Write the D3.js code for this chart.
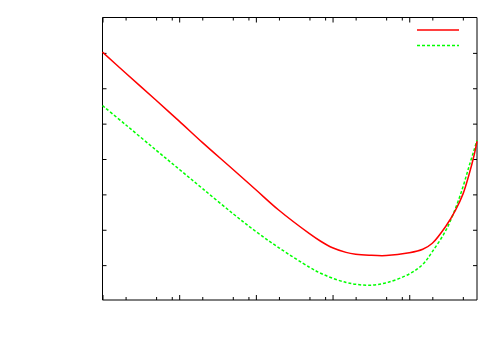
<!DOCTYPE html>
<html>
<head>
<meta charset="utf-8">
<script src="https://d3js.org/d3.v7.min.js"></script>
<style>
  body { margin: 0; background: #fff; }
  svg { display: block; }
</style>
</head>
<body>
<script>

  // x values (log scale)
  var xValues = [0.01, 0.02, 0.05, 0.1, 0.2, 0.5, 1, 2, 5, 7, 10, 15, 20, 30, 50, 100, 150, 200, 300, 400, 500, 600, 700, 765];
  var redValues = [7.02, 6.43, 5.66, 5.07, 4.47, 3.71, 3.13, 2.55, 1.89, 1.675, 1.49, 1.36, 1.31, 1.28, 1.27, 1.35, 1.45, 1.62, 2.10, 2.55, 3.00, 3.55, 4.10, 4.50];
  var greenValues = [5.51, 4.97, 4.25, 3.71, 3.17, 2.46, 1.95, 1.49, 0.94, 0.77, 0.63, 0.51, 0.46, 0.43, 0.50, 0.75, 1.02, 1.38, 1.98, 2.60, 3.20, 3.78, 4.25, 4.53];

  var xMajorTicks = [0.01, 0.1, 1, 10, 100];
  var xMinorTicks = [0.02, 0.05, 0.08, 0.2, 0.5, 0.8, 2, 5, 8, 20, 50, 80, 200, 500];
  var yTicks = [1, 2, 3, 4, 5, 6, 7];

  var plotLeft = 102.5, plotRight = 477, plotTop = 17.5, plotBottom = 300.5;

  var svg = d3.select("body").append("svg")
    .attr("width", 500)
    .attr("height", 350);

  var x = d3.scaleLog().domain([0.01, 765]).range([plotLeft, plotRight]);
  var y = d3.scaleLinear().domain([0, 8]).range([plotBottom, plotTop]);

  var red = xValues.map(function(d, i) { return [d, redValues[i]]; });
  var green = xValues.map(function(d, i) { return [d, greenValues[i]]; });

  var line = d3.line()
    .x(function(d) { return x(d[0]); })
    .y(function(d) { return y(d[1]); })
    .curve(d3.curveCatmullRom.alpha(0.5));

  // ticks
  function drawAxis(axis, tx, ty) {
    var g = svg.append("g")
      .attr("transform", "translate(" + tx + "," + ty + ")")
      .call(axis);
    g.select(".domain").remove();
    g.selectAll("line").attr("stroke", "#000").attr("stroke-width", 1);
    g.selectAll("text").remove();
  }

  drawAxis(d3.axisBottom(x).tickValues(xMajorTicks).tickSize(-5).tickFormat(""), 0, 300);
  drawAxis(d3.axisBottom(x).tickValues(xMinorTicks).tickSize(-3).tickFormat(""), 0, 300);
  drawAxis(d3.axisTop(x).tickValues(xMajorTicks).tickSize(-5).tickFormat(""), 0, plotTop);
  drawAxis(d3.axisTop(x).tickValues(xMinorTicks).tickSize(-3).tickFormat(""), 0, plotTop);
  drawAxis(d3.axisLeft(y).tickValues(yTicks).tickSize(-4).tickFormat(""), plotLeft, 0);
  drawAxis(d3.axisRight(y).tickValues(yTicks).tickSize(-4).tickFormat(""), plotRight, 0);

  // frame
  svg.append("line").attr("x1", plotLeft).attr("x2", plotLeft).attr("y1", plotTop).attr("y2", 300)
    .attr("stroke", "#000");
  svg.append("line").attr("x1", plotLeft).attr("x2", plotRight).attr("y1", plotTop).attr("y2", plotTop)
    .attr("stroke", "#000");
  svg.append("line").attr("x1", plotLeft).attr("x2", plotRight).attr("y1", 300).attr("y2", 300)
    .attr("stroke", "#000");
  svg.append("line").attr("x1", plotRight).attr("x2", plotRight).attr("y1", plotTop).attr("y2", 300)
    .attr("stroke", "#000");

  // curves
  svg.append("path")
    .datum(green)
    .attr("fill", "none")
    .attr("stroke", "#00ff00")
    .attr("stroke-width", 1.5)
    .attr("stroke-dasharray", "3,2")
    .attr("d", line);

  svg.append("path")
    .datum(red)
    .attr("fill", "none")
    .attr("stroke", "#ff0000")
    .attr("stroke-width", 1.5)
    .attr("d", line);

  // legend
  svg.append("line").attr("x1", 417).attr("x2", 459).attr("y1", 30).attr("y2", 30)
    .attr("stroke", "#ff0000").attr("stroke-width", 1.5);
  svg.append("line").attr("x1", 417).attr("x2", 459).attr("y1", 45.5).attr("y2", 45.5)
    .attr("stroke", "#00ff00").attr("stroke-width", 1.5).attr("stroke-dasharray", "3,2");

</script>
</body>
</html>
